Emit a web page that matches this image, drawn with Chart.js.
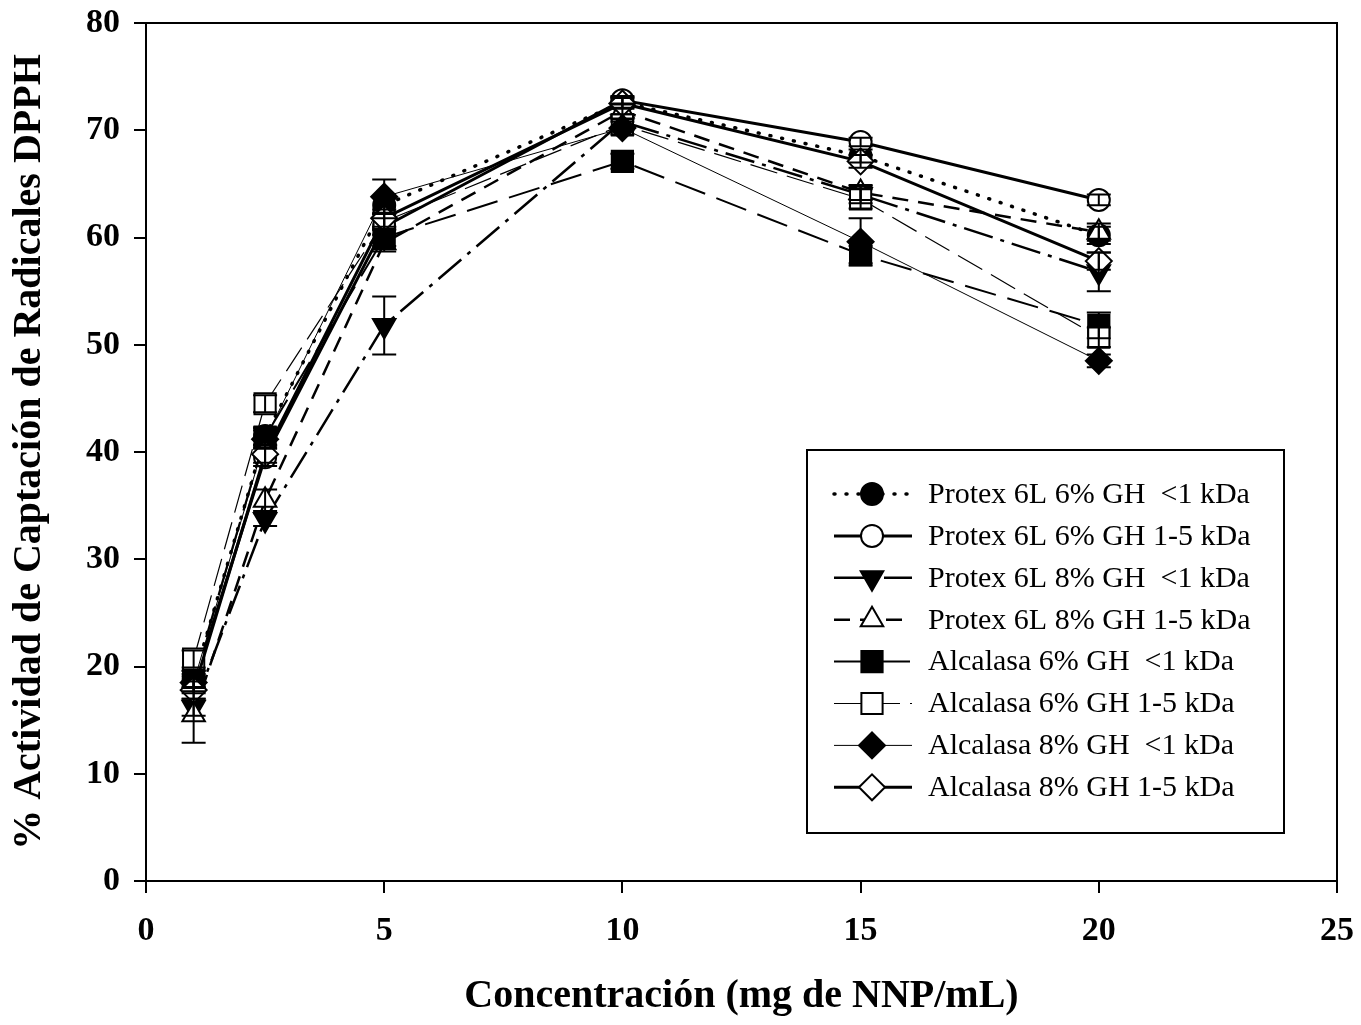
<!DOCTYPE html>
<html>
<head>
<meta charset="utf-8">
<script src="https://cdn.jsdelivr.net/npm/chart.js@4.4.1/dist/chart.umd.min.js"></script>
<style>
  body { margin: 0; background: #fff; }
  #wrap { width: 1361px; height: 1025px; }
</style>
</head>
<body>
<div id="wrap"><canvas id="dpph-chart" width="1361" height="1025"></canvas></div>
<script>
const conc = [1, 2.5, 5, 10, 15, 20];

const labels = [
    'Protex 6L 6% GH  <1 kDa',
    'Protex 6L 6% GH 1-5 kDa',
    'Protex 6L 8% GH  <1 kDa',
    'Protex 6L 8% GH 1-5 kDa',
    'Alcalasa 6% GH  <1 kDa',
    'Alcalasa 6% GH 1-5 kDa',
    'Alcalasa 8% GH  <1 kDa',
    'Alcalasa 8% GH 1-5 kDa'
];

const protex6Low = [18.8, 41.5, 63.0, 72.6, 67.6, 60.2];
const protex6High = [18.3, 39.5, 61.0, 72.8, 68.9, 63.5];
const protex8Low = [16.2, 33.7, 51.8, 70.8, 64.0, 56.8];
const protex8High = [15.5, 35.5, 59.5, 71.8, 64.2, 60.5];
const alcalasa6Low = [18.8, 41.4, 60.0, 67.1, 58.4, 51.8];
const alcalasa6High = [20.7, 44.5, 61.5, 70.5, 63.6, 50.7];
const alcalasa8Low = [18.5, 41.2, 63.8, 70.2, 59.6, 48.5];
const alcalasa8High = [17.8, 39.8, 61.8, 72.5, 67.1, 57.8];

const protex6LowErr = [0.8, 0.8, 0.8, 0.5, 0.6, 0.8];
const protex6HighErr = [0.8, 0.8, 0.8, 0.4, 0.4, 0.5];
const protex8LowErr = [0.8, 0.6, 2.7, 0.7, 0.8, 1.8];
const protex8HighErr = [2.6, 1.0, 0.8, 0.7, 0.7, 0.8];
const alcalasa6LowErr = [0.8, 0.8, 0.8, 0.7, 0.8, 1.2];
const alcalasa6HighErr = [0.8, 0.8, 0.8, 0.5, 0.9, 0.9];
const alcalasa8LowErr = [0.8, 0.8, 1.6, 0.6, 2.2, 0.6];
const alcalasa8HighErr = [0.8, 0.8, 0.8, 0.5, 0.6, 0.8];

function pts(vals) {
    return conc.map((x, i) => ({ x: x, y: vals[i] }));
}

const black = '#000';
const serif = '"Liberation Serif", "Times New Roman", serif';

// marker radius per style so all symbols look about the same size
const markerSize = { circle: 11, triangle: 13, rect: 15, rectRot: 13 };

const datasets = [
    { label: labels[0], data: pts(protex6Low), errors: protex6LowErr,
      pointStyle: 'circle', backgroundColor: black, borderWidth: 3.5, borderDash: [1, 11], borderCapStyle: 'round' },
    { label: labels[1], data: pts(protex6High), errors: protex6HighErr,
      pointStyle: 'circle', backgroundColor: '#fff', borderWidth: 3, borderDash: [] },
    { label: labels[2], data: pts(protex8Low), errors: protex8LowErr,
      pointStyle: 'triangle', rotation: 180, backgroundColor: black, borderWidth: 2.5, borderDash: [30, 8, 4, 8] },
    { label: labels[3], data: pts(protex8High), errors: protex8HighErr,
      pointStyle: 'triangle', backgroundColor: '#fff', borderWidth: 2.5, borderDash: [16, 10] },
    { label: labels[4], data: pts(alcalasa6Low), errors: alcalasa6LowErr,
      pointStyle: 'rect', backgroundColor: black, borderWidth: 2, borderDash: [32, 12] },
    { label: labels[5], data: pts(alcalasa6High), errors: alcalasa6HighErr,
      pointStyle: 'rect', backgroundColor: '#fff', borderWidth: 1.2, borderDash: [28, 10] },
    { label: labels[6], data: pts(alcalasa8Low), errors: alcalasa8LowErr,
      pointStyle: 'rectRot', backgroundColor: black, borderWidth: 1, borderDash: [] },
    { label: labels[7], data: pts(alcalasa8High), errors: alcalasa8HighErr,
      pointStyle: 'rectRot', backgroundColor: '#fff', borderWidth: 3, borderDash: [] }
].map((d, i) => Object.assign({
    showLine: true,
    borderColor: black,
    pointBorderColor: black,
    pointBackgroundColor: d.backgroundColor,
    pointBorderWidth: 2,
    pointRadius: markerSize[d.pointStyle],
    pointHoverRadius: markerSize[d.pointStyle],
    tension: 0,
    order: 8 - i   // later series on top, like the original plot
}, d));

// error bars, frame and the boxed legend
const extras = {
    id: 'extras',
    afterDatasetsDraw(chart) {
        const ctx = chart.ctx;
        const xs = chart.scales.x, ys = chart.scales.y;
        ctx.save();
        ctx.strokeStyle = black;
        ctx.lineWidth = 2;
        ctx.setLineDash([]);
        chart.data.datasets.forEach(ds => {
            ds.data.forEach((p, i) => {
                const e = ds.errors[i];
                const px = xs.getPixelForValue(p.x);
                const top = ys.getPixelForValue(p.y + e);
                const bot = ys.getPixelForValue(p.y - e);
                ctx.beginPath();
                ctx.moveTo(px, top); ctx.lineTo(px, bot);
                ctx.moveTo(px - 12, top); ctx.lineTo(px + 12, top);
                ctx.moveTo(px - 12, bot); ctx.lineTo(px + 12, bot);
                ctx.stroke();
            });
        });
        ctx.restore();
    },
    afterDraw(chart) {
        const ctx = chart.ctx;
        const a = chart.chartArea;
        ctx.save();
        ctx.strokeStyle = black;
        ctx.lineWidth = 2;
        ctx.strokeRect(a.left, a.top, a.right - a.left, a.bottom - a.top);

        const bx = 807, by = 450, bw = 477, bh = 383;
        ctx.strokeRect(bx, by, bw, bh);
        ctx.font = '30px ' + serif;
        ctx.textBaseline = 'middle';
        chart.data.datasets.forEach((ds, i) => {
            const y = 494 + i * 41.9;
            ctx.save();
            ctx.strokeStyle = black;
            ctx.lineWidth = ds.borderWidth;
            ctx.setLineDash(ds.borderDash);
            ctx.lineCap = ds.borderCapStyle || 'butt';
            ctx.beginPath();
            ctx.moveTo(834, y); ctx.lineTo(912, y);
            ctx.stroke();
            ctx.restore();

            ctx.save();
            ctx.fillStyle = ds.backgroundColor;
            ctx.strokeStyle = black;
            ctx.lineWidth = 2;
            ctx.setLineDash([]);
            Chart.helpers.drawPoint(ctx, {
                pointStyle: ds.pointStyle,
                rotation: ds.rotation || 0,
                radius: markerSize[ds.pointStyle],
                borderWidth: 2
            }, 872, y);
            ctx.restore();

            ctx.fillStyle = black;
            ctx.fillText(ds.label, 928, y + 1);
        });
        ctx.restore();
    }
};

Chart.defaults.font.family = serif;
Chart.defaults.color = black;

const ctxEl = document.getElementById('dpph-chart');

new Chart(ctxEl, {
    type: 'scatter',
    data: { datasets: datasets },
    plugins: [extras],
    options: {
        responsive: false,
        animation: false,
        layout: { padding: { left: 0, top: 23, right: 24, bottom: 0 } },
        plugins: {
            legend: { display: false },
            tooltip: { enabled: false }
        },
        scales: {
            x: {
                type: 'linear',
                min: 0,
                max: 25,
                border: { color: black, width: 2 },
                grid: { display: true, drawOnChartArea: false, drawTicks: true, tickLength: 12, color: black, lineWidth: 2 },
                ticks: { stepSize: 5, padding: 18, font: { size: 34, weight: 'bold', family: serif }, color: black },
                title: { display: true, text: 'Concentración (mg de NNP/mL)', font: { size: 40, weight: 'bold', family: serif }, color: black, padding: { top: 30 } },
                afterFit(scale) {
                    scale.height = 144;
                    scale.paddingRight = 0;
                    scale.paddingLeft = 0;
                }
            },
            y: {
                type: 'linear',
                min: 0,
                max: 80,
                border: { color: black, width: 2 },
                grid: { display: true, drawOnChartArea: false, drawTicks: true, tickLength: 12, color: black, lineWidth: 2 },
                ticks: { stepSize: 10, padding: 14, font: { size: 34, weight: 'bold', family: serif }, color: black },
                title: { display: true, text: '% Actividad de Captación de Radicales DPPH', font: { size: 40, weight: 'bold', family: serif }, color: black, padding: { top: 6, bottom: 0 } },
                afterFit(scale) {
                    scale.width = 146;
                    scale.paddingTop = 0;
                    scale.paddingBottom = 0;
                }
            }
        }
    }
});
</script>
</body>
</html>
